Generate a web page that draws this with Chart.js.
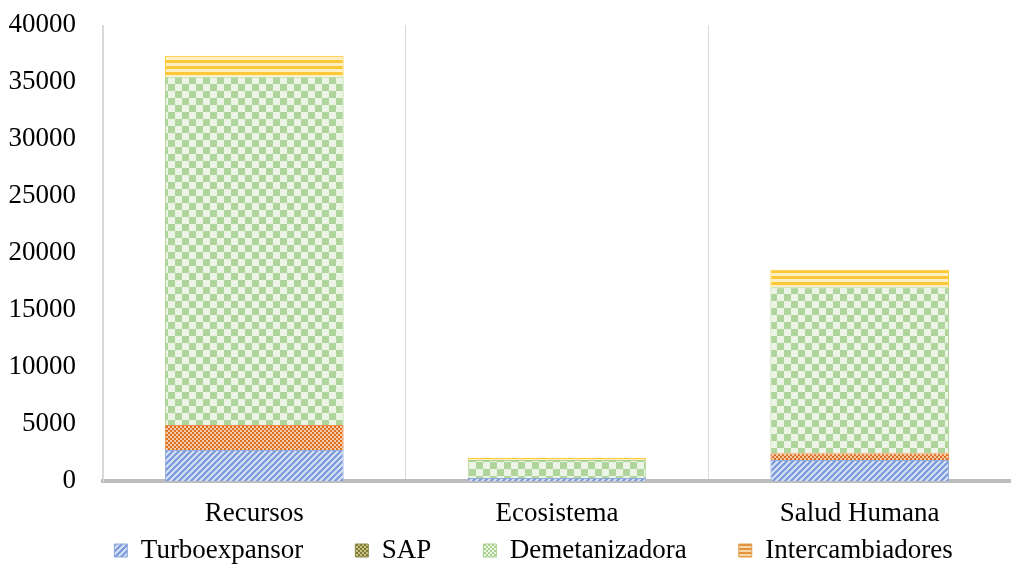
<!DOCTYPE html>
<html>
<head>
<meta charset="utf-8">
<script src="https://cdn.jsdelivr.net/npm/chart.js@4"></script>
<style>
  html, body { margin: 0; padding: 0; background: #fff; }
  #wrap { width: 1011px; height: 565px; }
</style>
</head>
<body>
<div id="wrap"><canvas id="myChart" width="1011" height="565"></canvas></div>
<script>
// categories and stacked series (bottom to top)
const categories = ['Recursos', 'Ecosistema', 'Salud Humana']
const turboexpansor = [2720, 260, 1850]
const sap = [2200, 0, 590]
const demetanizadora = [30530, 1580, 14560]
const intercambiadores = [1850, 170, 1530]
const yTicks = [0, 5000, 10000, 15000, 20000, 25000, 30000, 35000, 40000]

// small tiles used as fill patterns
function makePattern(size, draw) {
  const c = document.createElement('canvas')
  c.width = size
  c.height = size
  draw(c.getContext('2d'), size)
  return c.getContext('2d').createPattern(c, 'repeat')
}

const diagBlue = makePattern(6, (g, s) => {
  g.fillStyle = '#d6e1f5'
  g.fillRect(0, 0, s, s)
  g.strokeStyle = '#7797d8'
  g.lineWidth = 2
  g.beginPath()
  g.moveTo(-1, s + 1); g.lineTo(s + 1, -1)
  g.moveTo(-1, 1); g.lineTo(1, -1)
  g.moveTo(s - 1, s + 1); g.lineTo(s + 1, s - 1)
  g.stroke()
})

const checkOrange = makePattern(4, (g, s) => {
  g.fillStyle = '#f6cba8'
  g.fillRect(0, 0, s, s)
  g.fillStyle = '#dd6f25'
  g.fillRect(0, 0, 2, 2)
  g.fillRect(2, 2, 2, 2)
})

const checkGreen = makePattern(14, (g, s) => {
  g.fillStyle = '#ebf4e5'
  g.fillRect(0, 0, s, s)
  g.fillStyle = '#b0d59c'
  g.fillRect(0, 0, 7, 7)
  g.fillRect(7, 7, 7, 7)
})

const stripeYellow = makePattern(6, (g, s) => {
  g.fillStyle = '#fff0c4'
  g.fillRect(0, 0, s, s)
  g.fillStyle = '#fdc73a'
  g.fillRect(0, 0, s, 3)
})

// legend swatches
const checkOlive = makePattern(4, (g, s) => {
  g.fillStyle = '#c9c58a'
  g.fillRect(0, 0, s, s)
  g.fillStyle = '#7d7a2e'
  g.fillRect(0, 0, 2, 2)
  g.fillRect(2, 2, 2, 2)
})

const stripeOrange = makePattern(4, (g, s) => {
  g.fillStyle = '#f6d9a8'
  g.fillRect(0, 0, s, s)
  g.fillStyle = '#e3913d'
  g.fillRect(0, 0, s, 2)
})

const checkGreenSmall = makePattern(4, (g, s) => {
  g.fillStyle = '#eef6ea'
  g.fillRect(0, 0, s, s)
  g.fillStyle = '#a9d18e'
  g.fillRect(0, 0, 2, 2)
  g.fillRect(2, 2, 2, 2)
})

const legendFills = [diagBlue, checkOlive, checkGreenSmall, stripeOrange]
const legendBorders = ['#8fa9dc', '#8c8a4a', '#a9d18e', '#e0a050']

const font = { family: '"Liberation Serif", "Times New Roman", serif', size: 27 }

// keep the legend row compact vertically while spacing items wide apart
const legendGap = 52
const legendBand = 30
const legendLayout = {
  id: 'legendLayout',
  beforeLayout(chart) {
    const legend = chart.legend
    if (legend && !legend._compact) {
      const fit = legend.fit
      legend.fit = function () {
        fit.call(this)
        this.height = legendBand
      }
      legend._compact = true
    }
  },
  afterLayout(chart) {
    const legend = chart.legend
    legend.top = legend.bottom - legendBand + 2 - legendGap
    legend.left += 28
    legend.right += 28
  },
}

new Chart(document.getElementById('myChart').getContext('2d'), {
  type: 'bar',
  data: {
    labels: categories,
    datasets: [
      { label: 'Turboexpansor', data: turboexpansor, backgroundColor: diagBlue, borderColor: '#8fa9dc', borderWidth: 1 },
      { label: 'SAP', data: sap, backgroundColor: checkOrange, borderColor: '#e98a45', borderWidth: 1 },
      { label: 'Demetanizadora', data: demetanizadora, backgroundColor: checkGreen, borderColor: '#a9d18e', borderWidth: 1 },
      { label: 'Intercambiadores', data: intercambiadores, backgroundColor: stripeYellow, borderColor: '#ffc933', borderWidth: 1 },
    ],
  },
  plugins: [legendLayout],
  options: {
    responsive: false,
    animation: false,
    layout: { padding: { top: 25, right: 0, left: 0, bottom: 0 } },
    categoryPercentage: 1,
    barPercentage: 0.59,
    plugins: {
      tooltip: { enabled: false },
      legend: {
        position: 'bottom',
        labels: {
          font: font,
          color: '#000',
          boxWidth: 13,
          boxHeight: 13,
          padding: legendGap,
          generateLabels(chart) {
            return chart.data.datasets.map((ds, i) => ({
              text: ds.label,
              fillStyle: legendFills[i],
              strokeStyle: legendBorders[i],
              lineWidth: 1,
              fontColor: '#000',
              hidden: false,
              datasetIndex: i,
            }))
          },
        },
      },
    },
    scales: {
      x: {
        stacked: true,
        afterFit(scale) { scale.height = 54 },
        grid: { color: '#d9d9d9', lineWidth: 1, drawTicks: false, offset: true },
        border: { color: '#bdbdbd', width: 4 },
        ticks: { font: font, color: '#000', padding: 17 },
      },
      y: {
        stacked: true,
        min: 0,
        max: 40000,
        afterFit(scale) {
          scale.width = 103
          scale.paddingTop = 14
          scale.paddingBottom = 14
        },
        afterBuildTicks(scale) { scale.ticks = yTicks.map(v => ({ value: v })) },
        grid: { display: false, drawTicks: false },
        border: { color: '#d9d9d9', width: 1 },
        ticks: { font: font, color: '#000', padding: 27, callback: v => String(v) },
      },
    },
  },
})
</script>
</body>
</html>
